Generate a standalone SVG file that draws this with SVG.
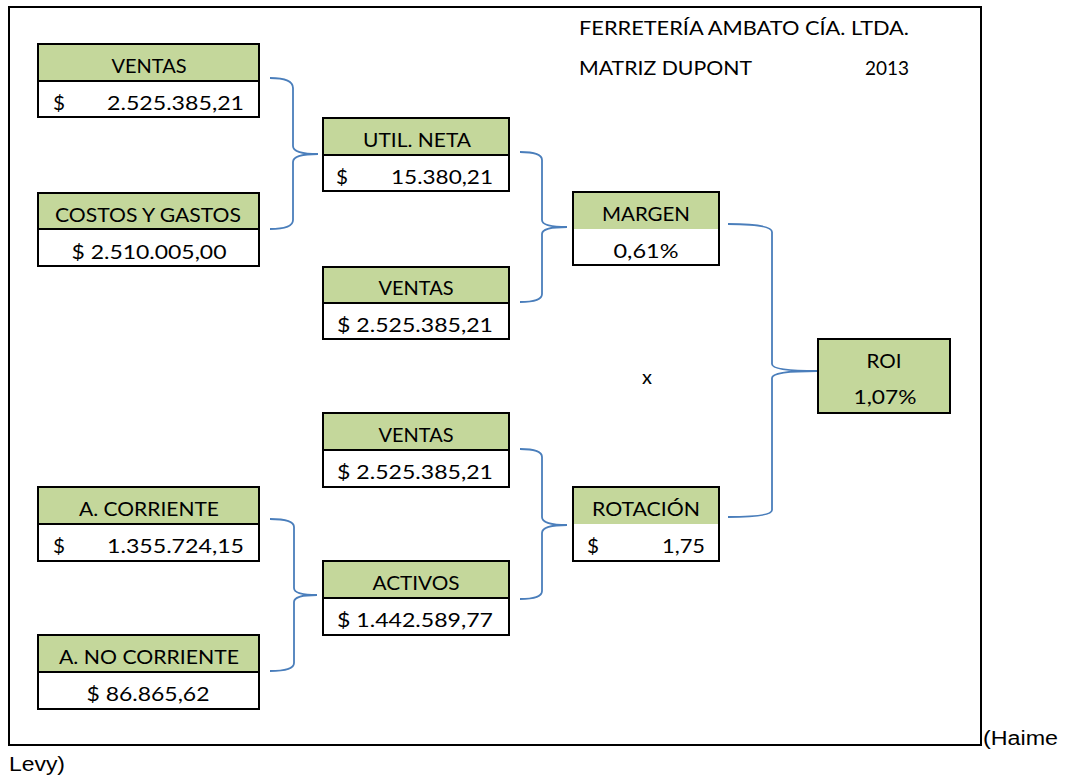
<svg xmlns="http://www.w3.org/2000/svg" width="1067" height="780" viewBox="0 0 1067 780">
  <style>
    text { font-family: Lato, "Liberation Sans", sans-serif; font-size: 20px; fill: #000; }
    .c { text-anchor: middle; }
    .r { text-anchor: end; }
    .hdr { fill: #C4D79B; }
    .val { fill: #FFFFFF; }
    .box { fill: none; stroke: #000; stroke-width: 2; }
    .div { stroke: #000; stroke-width: 2; }
    .brace { fill: none; stroke: #4A7EBB; stroke-width: 1.8; }
    .note { font-family: "Liberation Sans", Arial, sans-serif; font-size: 20px; }
  </style>

  <rect width="1067" height="780" fill="#FFFFFF"/>
  <rect x="9" y="7" width="972" height="738" fill="none" stroke="#000" stroke-width="2"/>

  <g id="title">
    <text x="579" y="35" textLength="330" lengthAdjust="spacingAndGlyphs">FERRETERÍA AMBATO CÍA. LTDA.</text>
    <text x="579" y="75" textLength="173" lengthAdjust="spacingAndGlyphs">MATRIZ DUPONT</text>
    <text x="865" y="75" textLength="44" lengthAdjust="spacingAndGlyphs">2013</text>
  </g>

  <g id="connectors">
    <path class="brace" d="M270 78 Q293 78 293 88 L293 146 Q293 154 318 154 Q293 154 293 162 L293 220 Q293 229 270 229"/>
    <path class="brace" d="M520 152 Q542 152 542 160 L542 220 Q542 227 567 227 Q542 227 542 234 L542 294 Q542 302 520 302"/>
    <path class="brace" d="M728 224 Q772 224 772 232 L772 364 Q772 371 817 371 Q772 371 772 378 L772 510 Q772 517 728 517"/>
    <path class="brace" d="M520 449 Q542 449 542 457 L542 517 Q542 525 567 525 Q542 525 542 533 L542 591 Q542 599 520 599"/>
    <path class="brace" d="M270 519 Q294 519 294 527 L294 588 Q294 595 317 595 Q294 595 294 602 L294 663 Q294 671 270 671"/>
  </g>

  <g id="ventas1">
    <rect class="hdr" x="38" y="44" width="221" height="37"/>
    <rect class="val" x="38" y="81" width="221" height="36"/>
    <rect class="box" x="38" y="44" width="221" height="73"/>
    <line class="div" x1="38" y1="81" x2="259" y2="81"/>
    <text class="c" x="149" y="73" textLength="75" lengthAdjust="spacingAndGlyphs">VENTAS</text>
    <text x="53" y="110" textLength="12" lengthAdjust="spacingAndGlyphs">$</text>
    <text class="r" x="244" y="110" textLength="137" lengthAdjust="spacingAndGlyphs">2.525.385,21</text>
  </g>

  <g id="costos">
    <rect class="hdr" x="38" y="193" width="221" height="36"/>
    <rect class="val" x="38" y="229" width="221" height="37"/>
    <rect class="box" x="38" y="193" width="221" height="73"/>
    <line class="div" x1="38" y1="229" x2="259" y2="229"/>
    <text class="c" x="148" y="222" textLength="186" lengthAdjust="spacingAndGlyphs">COSTOS Y GASTOS</text>
    <text class="c" x="149" y="259" textLength="155" lengthAdjust="spacingAndGlyphs">$ 2.510.005,00</text>
  </g>

  <g id="utilneta">
    <rect class="hdr" x="323" y="118" width="186" height="37"/>
    <rect class="val" x="323" y="155" width="186" height="36"/>
    <rect class="box" x="323" y="118" width="186" height="73"/>
    <line class="div" x1="323" y1="155" x2="509" y2="155"/>
    <text class="c" x="417" y="147" textLength="108" lengthAdjust="spacingAndGlyphs">UTIL. NETA</text>
    <text x="336" y="184" textLength="12" lengthAdjust="spacingAndGlyphs">$</text>
    <text class="r" x="493" y="184" textLength="102" lengthAdjust="spacingAndGlyphs">15.380,21</text>
  </g>

  <g id="ventas2">
    <rect class="hdr" x="323" y="267" width="186" height="36"/>
    <rect class="val" x="323" y="303" width="186" height="36"/>
    <rect class="box" x="323" y="267" width="186" height="72"/>
    <line class="div" x1="323" y1="303" x2="509" y2="303"/>
    <text class="c" x="416" y="295" textLength="75" lengthAdjust="spacingAndGlyphs">VENTAS</text>
    <text class="c" x="415" y="332" textLength="156" lengthAdjust="spacingAndGlyphs">$ 2.525.385,21</text>
  </g>

  <g id="margen">
    <rect class="hdr" x="573" y="192" width="146" height="37"/>
    <rect class="val" x="573" y="229" width="146" height="36"/>
    <rect class="box" x="573" y="192" width="146" height="73"/>
    <text class="c" x="646" y="221" textLength="88" lengthAdjust="spacingAndGlyphs">MARGEN</text>
    <text class="c" x="646" y="258" textLength="65" lengthAdjust="spacingAndGlyphs">0,61%</text>
  </g>

  <g id="times">
    <text class="c" x="647" y="384">x</text>
  </g>

  <g id="roi">
    <rect class="hdr" x="818" y="339" width="132" height="74"/>
    <rect class="box" x="818" y="339" width="132" height="74"/>
    <text class="c" x="884" y="368" textLength="35" lengthAdjust="spacingAndGlyphs">ROI</text>
    <text class="c" x="885" y="404" textLength="63" lengthAdjust="spacingAndGlyphs">1,07%</text>
  </g>

  <g id="ventas3">
    <rect class="hdr" x="323" y="413" width="186" height="37"/>
    <rect class="val" x="323" y="450" width="186" height="37"/>
    <rect class="box" x="323" y="413" width="186" height="74"/>
    <line class="div" x1="323" y1="450" x2="509" y2="450"/>
    <text class="c" x="416" y="442" textLength="75" lengthAdjust="spacingAndGlyphs">VENTAS</text>
    <text class="c" x="415" y="479" textLength="156" lengthAdjust="spacingAndGlyphs">$ 2.525.385,21</text>
  </g>

  <g id="rotacion">
    <rect class="hdr" x="573" y="487" width="146" height="37"/>
    <rect class="val" x="573" y="524" width="146" height="37"/>
    <rect class="box" x="573" y="487" width="146" height="74"/>
    <text class="c" x="646" y="516" textLength="108" lengthAdjust="spacingAndGlyphs">ROTACIÓN</text>
    <text x="587" y="553" textLength="12" lengthAdjust="spacingAndGlyphs">$</text>
    <text class="r" x="705" y="553" textLength="43" lengthAdjust="spacingAndGlyphs">1,75</text>
  </g>

  <g id="acorriente">
    <rect class="hdr" x="38" y="487" width="221" height="37"/>
    <rect class="val" x="38" y="524" width="221" height="37"/>
    <rect class="box" x="38" y="487" width="221" height="74"/>
    <line class="div" x1="38" y1="524" x2="259" y2="524"/>
    <text class="c" x="149" y="516" textLength="140" lengthAdjust="spacingAndGlyphs">A. CORRIENTE</text>
    <text x="53" y="553" textLength="12" lengthAdjust="spacingAndGlyphs">$</text>
    <text class="r" x="244" y="553" textLength="137" lengthAdjust="spacingAndGlyphs">1.355.724,15</text>
  </g>

  <g id="activos">
    <rect class="hdr" x="323" y="561" width="186" height="37"/>
    <rect class="val" x="323" y="598" width="186" height="37"/>
    <rect class="box" x="323" y="561" width="186" height="74"/>
    <line class="div" x1="323" y1="598" x2="509" y2="598"/>
    <text class="c" x="416" y="590" textLength="87" lengthAdjust="spacingAndGlyphs">ACTIVOS</text>
    <text class="c" x="415" y="627" textLength="156" lengthAdjust="spacingAndGlyphs">$ 1.442.589,77</text>
  </g>

  <g id="anocorriente">
    <rect class="hdr" x="38" y="635" width="221" height="37"/>
    <rect class="val" x="38" y="672" width="221" height="37"/>
    <rect class="box" x="38" y="635" width="221" height="74"/>
    <line class="div" x1="38" y1="672" x2="259" y2="672"/>
    <text class="c" x="149" y="664" textLength="180" lengthAdjust="spacingAndGlyphs">A. NO CORRIENTE</text>
    <text class="c" x="148" y="701" textLength="123" lengthAdjust="spacingAndGlyphs">$ 86.865,62</text>
  </g>

  <g id="source">
    <text class="note" x="983" y="745" textLength="75" lengthAdjust="spacingAndGlyphs">(Haime</text>
    <text class="note" x="9" y="771" textLength="56" lengthAdjust="spacingAndGlyphs">Levy)</text>
  </g>
</svg>
